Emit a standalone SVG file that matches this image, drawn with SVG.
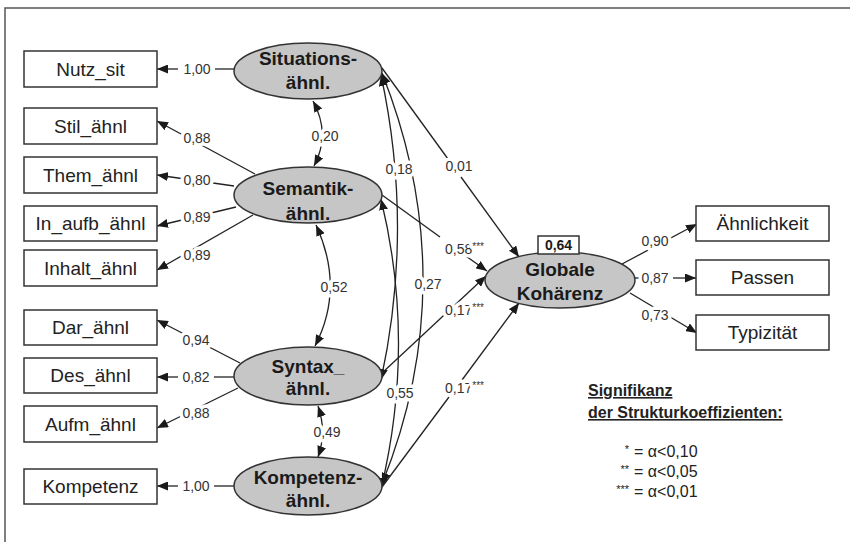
<svg xmlns="http://www.w3.org/2000/svg" width="850" height="542" viewBox="0 0 850 542">
<style>
.bg{fill:#ffffff}
.frame{stroke:#555;stroke-width:1.5;fill:none}
.box{fill:#fff;stroke:#333;stroke-width:1.5}
.lat{fill:#c6c6c6;stroke:#333;stroke-width:1.5}
.bt{font-family:"Liberation Sans",Arial,sans-serif;font-size:19px;fill:#222;text-anchor:middle}
.lt{font-family:"Liberation Sans",Arial,sans-serif;font-size:19px;font-weight:bold;fill:#1a1a1a;text-anchor:middle}
.c{font-family:"Liberation Sans",Arial,sans-serif;font-size:14px;fill:#333;stroke:#fff;stroke-width:7;stroke-linejoin:round;paint-order:stroke}
.m{text-anchor:middle}
.sup{font-size:10px}
.e{stroke:#222;stroke-width:1.3;fill:none}
.a{marker-end:url(#ah)}
.d{marker-start:url(#ah);marker-end:url(#ah)}
.leg{font-family:"Liberation Sans",Arial,sans-serif;font-size:16px;font-weight:bold;fill:#222;text-decoration:underline}
.lg{font-family:"Liberation Sans",Arial,sans-serif;font-size:16px;fill:#222}
</style>
<defs>
<marker id="ah" markerUnits="userSpaceOnUse" markerWidth="11" markerHeight="9" refX="11" refY="4.5" orient="auto-start-reverse">
<path d="M0,0 L11,4.5 L0,9 z" fill="#1a1a1a"/>
</marker>
</defs>
<rect class="bg" x="0" y="0" width="850" height="542"/>
<path class="frame" d="M5,542 L5,8 L850,8"/>

<g id="connectors">
<path class="e" d="M234,69 L215,69"/><path class="e a" d="M178,69 L157,69"/>
<path class="e a" d="M255,174 L157,121"/>
<path class="e a" d="M234,186 L157,175"/>
<path class="e a" d="M236,207 L157,226"/>
<path class="e a" d="M253,215 L157,270"/>
<path class="e a" d="M240,363 L157,320"/>
<path class="e" d="M234,377 L214,377"/><path class="e a" d="M178,377 L157,377"/>
<path class="e a" d="M238,388 L157,428"/>
<path class="e" d="M234,486 L214,486"/><path class="e a" d="M178,486 L157,486"/>
<path class="e d" d="M313,101 Q331,134 314,166"/>
<path class="e d" d="M316,225 Q345,288 315,346"/>
<path class="e d" d="M318,406 Q327,432 318,457"/>
<path class="e d" d="M381,75 Q414,228 381,380"/>
<path class="e d" d="M382,73 Q464,280 382,484"/>
<path class="e d" d="M381,199 Q416,343 381,489"/>
<path class="e" d="M382,68 L448,159"/><path class="e a" d="M461,177 L519,257"/>
<path class="e" d="M382,195 L440,237"/><path class="e a" d="M463,254 L487,271"/>
<path class="e a" d="M382,373 L486,276"/>
<path class="e" d="M382,487 L449,397"/><path class="e a" d="M462,380 L519,303"/>
<path class="e a" d="M622,264 L697,224"/>
<path class="e" d="M635,278 L639,278"/><path class="e a" d="M673,278 L696,278"/>
<path class="e a" d="M630,293 L697,333"/>
<text class="c m" x="197" y="74">1,00</text>
<text class="c m" x="197" y="143">0,88</text>
<text class="c m" x="197" y="185">0,80</text>
<text class="c m" x="197" y="222">0,89</text>
<text class="c m" x="197" y="260">0,89</text>
<text class="c m" x="196" y="345">0,94</text>
<text class="c m" x="196" y="382">0,82</text>
<text class="c m" x="196" y="418">0,88</text>
<text class="c m" x="196" y="491">1,00</text>
<text class="c m" x="325" y="141">0,20</text>
<text class="c m" x="334" y="292">0,52</text>
<text class="c m" x="327" y="437">0,49</text>
<text class="c m" x="399" y="174">0,18</text>
<text class="c m" x="428" y="289">0,27</text>
<text class="c m" x="400" y="398">0,55</text>
<text class="c m" x="459" y="171">0,01</text>
<text class="c" x="445" y="254">0,58<tspan class="sup" dy="-4">***</tspan></text>
<text class="c" x="445" y="315">0,17<tspan class="sup" dy="-4">***</tspan></text>
<text class="c" x="445" y="393">0,17<tspan class="sup" dy="-4">***</tspan></text>
<text class="c m" x="655" y="246">0,90</text>
<text class="c m" x="655" y="283">0,87</text>
<text class="c m" x="655" y="320">0,73</text>
</g>

<g id="nutz_sit"><rect class="box" x="24" y="51" width="133" height="36"/><text class="bt" x="90.5" y="76">Nutz_sit</text></g>
<g id="stil"><rect class="box" x="24" y="108" width="133" height="36"/><text class="bt" x="90.5" y="133">Stil_ähnl</text></g>
<g id="them"><rect class="box" x="24" y="157" width="133" height="36"/><text class="bt" x="90.5" y="182">Them_ähnl</text></g>
<g id="in_aufb"><rect class="box" x="24" y="206" width="133" height="35"/><text class="bt" x="90.5" y="230">In_aufb_ähnl</text></g>
<g id="inhalt"><rect class="box" x="24" y="250" width="133" height="36"/><text class="bt" x="90.5" y="275">Inhalt_ähnl</text></g>
<g id="dar"><rect class="box" x="24" y="310" width="133" height="35"/><text class="bt" x="90.5" y="334">Dar_ähnl</text></g>
<g id="des"><rect class="box" x="24" y="358" width="133" height="35"/><text class="bt" x="90.5" y="382">Des_ähnl</text></g>
<g id="aufm"><rect class="box" x="24" y="406" width="133" height="36"/><text class="bt" x="90.5" y="431">Aufm_ähnl</text></g>
<g id="kompetenz"><rect class="box" x="24" y="469" width="133" height="35"/><text class="bt" x="90.5" y="493">Kompetenz</text></g>

<g id="situations"><ellipse class="lat" cx="308" cy="71" rx="74" ry="28"/><text class="lt" x="308" y="65">Situations-</text><text class="lt" x="308" y="89">ähnl.</text></g>
<g id="semantik"><ellipse class="lat" cx="308" cy="195" rx="74" ry="28"/><text class="lt" x="308" y="195">Semantik-</text><text class="lt" x="308" y="220">ähnl.</text></g>
<g id="syntax"><ellipse class="lat" cx="308" cy="376" rx="74" ry="29"/><text class="lt" x="308" y="373">Syntax_</text><text class="lt" x="308" y="395">ähnl.</text></g>
<g id="kompetenz_lat"><ellipse class="lat" cx="308" cy="486" rx="74" ry="29"/><text class="lt" x="308" y="484">Kompetenz-</text><text class="lt" x="308" y="507">ähnl.</text></g>
<g id="globale"><ellipse class="lat" cx="560" cy="280" rx="75" ry="28"/><text class="lt" x="560" y="276">Globale</text><text class="lt" x="560" y="300">Kohärenz</text>
<rect class="box" x="538" y="236" width="41" height="18"/><text class="lt" style="font-size:14px" x="558.5" y="250">0,64</text></g>

<g id="aehnlichkeit"><rect class="box" x="696" y="206" width="133" height="35"/><text class="bt" x="762.5" y="230">Ähnlichkeit</text></g>
<g id="passen"><rect class="box" x="696" y="260" width="133" height="35"/><text class="bt" x="762.5" y="284">Passen</text></g>
<g id="typizitaet"><rect class="box" x="696" y="315" width="133" height="35"/><text class="bt" x="762.5" y="339">Typizität</text></g>

<g id="legend">
<text class="leg" x="588" y="396">Signifikanz</text>
<text class="leg" x="588" y="418">der Strukturkoeffizienten:</text>
<text class="lg" x="629" y="457" text-anchor="end"><tspan style="font-size:11px" dy="-4">*</tspan></text>
<text class="lg" x="634" y="457">= α&lt;0,10</text>
<text class="lg" x="629" y="477" text-anchor="end"><tspan style="font-size:11px" dy="-4">**</tspan></text>
<text class="lg" x="634" y="477">= α&lt;0,05</text>
<text class="lg" x="629" y="497" text-anchor="end"><tspan style="font-size:11px" dy="-4">***</tspan></text>
<text class="lg" x="634" y="497">= α&lt;0,01</text>
</g>
</svg>
